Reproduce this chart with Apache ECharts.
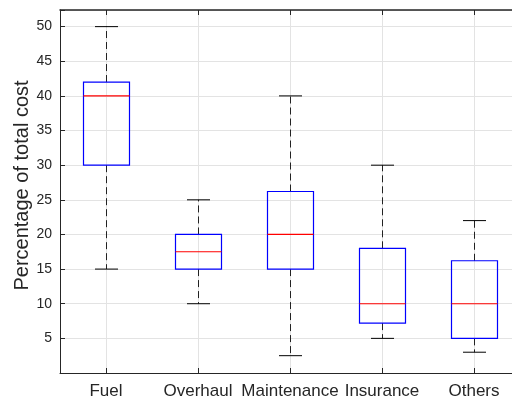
<!DOCTYPE html>
<html>
<head>
<meta charset="utf-8">
<script src="https://cdn.jsdelivr.net/npm/echarts@6/dist/echarts.min.js"></script>
<style>
  html, body { margin: 0; padding: 0; background: #fff; }
  #chart { width: 512px; height: 400px; }
</style>
</head>
<body>
<div id="chart"></div>
<script>
// Cost categories and their box-plot statistics (percent of total cost)
const categories = ['Fuel', 'Overhaul', 'Maintenance', 'Insurance', 'Others'];
const whiskerLow = [15, 10, 2.5, 5, 3];
const quartile1 = [30, 15, 15, 7.2, 5];
const medians = [40, 17.5, 20, 10, 10];
const quartile3 = [42, 20, 26.2, 18, 16.2];
const whiskerHigh = [50, 25, 40, 30, 22];
const yTicks = [5, 10, 15, 20, 25, 30, 35, 40, 45, 50];

const boxData = categories.map((c, i) => [
  i, whiskerLow[i], quartile1[i], medians[i], quartile3[i], whiskerHigh[i]
]);

const axisColor = '#262626';
const gridColor = '#e3e3e3';
const font = 'Liberation Sans, Arial, Helvetica, sans-serif';

function renderBox(params, api) {
  const idx = api.value(0);
  const pLow = api.coord([idx, api.value(1)]);
  const pQ1 = api.coord([idx, api.value(2)]);
  const pMed = api.coord([idx, api.value(3)]);
  const pQ3 = api.coord([idx, api.value(4)]);
  const pHigh = api.coord([idx, api.value(5)]);
  const band = api.size([1, 0])[0];
  const boxHalf = band * 0.25;
  const capHalf = band * 0.125;
  const cx = Math.round(pMed[0]) + 0.5;
  const whiskerStyle = { stroke: '#222', lineWidth: 1, lineDash: [7, 4], fill: null };
  const capStyle = { stroke: '#000', lineWidth: 1, fill: null };
  return {
    type: 'group',
    children: [
      { type: 'line', shape: { x1: cx, y1: pQ3[1], x2: cx, y2: pHigh[1] }, style: whiskerStyle },
      { type: 'line', shape: { x1: cx, y1: pQ1[1], x2: cx, y2: pLow[1] }, style: whiskerStyle },
      { type: 'line', shape: { x1: cx - capHalf, y1: pHigh[1], x2: cx + capHalf, y2: pHigh[1] }, style: capStyle },
      { type: 'line', shape: { x1: cx - capHalf, y1: pLow[1], x2: cx + capHalf, y2: pLow[1] }, style: capStyle },
      { type: 'rect', shape: { x: cx - boxHalf, y: pQ3[1], width: boxHalf * 2, height: pQ1[1] - pQ3[1] },
        style: { stroke: '#0000ff', lineWidth: 1.2, fill: null } },
      { type: 'line', shape: { x1: cx - boxHalf, y1: pMed[1], x2: cx + boxHalf, y2: pMed[1] },
        style: { stroke: '#ff0000', lineWidth: 1.2, fill: null } }
    ]
  };
}

const chart = echarts.init(document.getElementById('chart'), null, { renderer: 'canvas' });
chart.setOption({
  animation: false,
  backgroundColor: '#fff',
  grid: { left: 60, top: 10, width: 460, height: 363, outerBoundsMode: 'none', containLabel: false },
  xAxis: [
    {
      type: 'category',
      data: categories,
      boundaryGap: true,
      axisLine: { show: true, lineStyle: { color: axisColor, width: 1 } },
      axisTick: { show: true, inside: true, length: 5, alignWithLabel: true, lineStyle: { color: axisColor } },
      axisLabel: { color: axisColor, fontSize: 17, fontFamily: font, margin: 10, interval: 0, hideOverlap: false },
      splitLine: { show: true, alignWithLabel: true, lineStyle: { color: gridColor, width: 1 } }
    },
    {
      type: 'category',
      data: categories,
      position: 'top',
      boundaryGap: true,
      axisLine: { show: true, lineStyle: { color: axisColor, width: 1.5 } },
      axisTick: { show: true, inside: true, length: 5, alignWithLabel: true, interval: 0, lineStyle: { color: axisColor } },
      axisLabel: { show: false },
      splitLine: { show: false }
    }
  ],
  yAxis: {
    type: 'value',
    min: 0,
    max: 52.4,
    interval: 5,
    name: 'Percentage of total cost',
    nameLocation: 'middle',
    nameGap: 28,
    nameMoveOverlap: false,
    nameTextStyle: { color: axisColor, fontSize: 20, fontFamily: font, padding: [0, 0, 0, 12] },
    axisLine: { show: true, lineStyle: { color: axisColor, width: 1 } },
    axisTick: { show: true, inside: true, length: 5, lineStyle: { color: axisColor } },
    axisLabel: {
      color: axisColor, fontSize: 14, fontFamily: font, margin: 8,
      formatter: v => (yTicks.indexOf(v) >= 0 ? String(v) : '')
    },
    splitLine: { show: true, lineStyle: { color: gridColor, width: 1 } }
  },
  series: [
    {
      type: 'custom',
      renderItem: renderBox,
      encode: { x: 0, y: [1, 2, 3, 4, 5] },
      data: boxData,
      clip: false
    }
  ]
});
</script>
</body>
</html>
